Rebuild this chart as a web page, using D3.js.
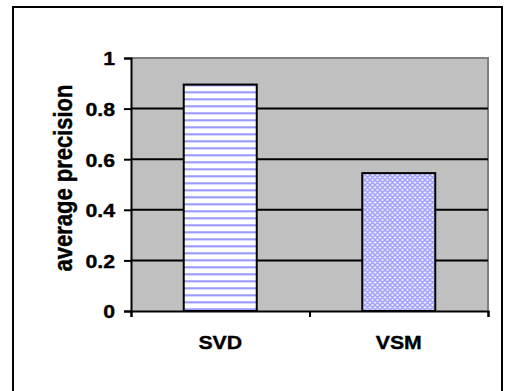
<!DOCTYPE html>
<html><head><meta charset="utf-8">
<script src="https://cdn.jsdelivr.net/npm/d3@7"></script>
<style>html,body{margin:0;padding:0;background:#fff;}svg{display:block;}text{font-family:"Liberation Sans",Arial,sans-serif;font-weight:bold;fill:#000;stroke:#000;stroke-width:0.35px;}</style>
</head><body>
<script>
const categories = ["SVD", "VSM"];
const values = [0.895, 0.545];
const yTicks = [0, 0.2, 0.4, 0.6, 0.8, 1];
const yTickLabels = ["0", "0.2", "0.4", "0.6", "0.8", "1"];
const yTitle = "average precision";

const W = 515, H = 391;
const svg = d3.select("body").append("svg").attr("width", W).attr("height", H);
const defs = svg.append("defs");

// horizontal stripes pattern
const SP = 7;
const p1 = defs.append("pattern").attr("id","stripes").attr("patternUnits","userSpaceOnUse")
  .attr("width", 8).attr("height", SP);
p1.append("rect").attr("width",8).attr("height",SP).attr("fill","#fff");
p1.append("rect").attr("y",0).attr("width",8).attr("height",2.6).attr("fill","#c8c8ff");
p1.append("rect").attr("y",0.5).attr("width",8).attr("height",1.6).attr("fill","#9c9cff");

// crosshatch pattern
const p2 = defs.append("pattern").attr("id","hatch").attr("patternUnits","userSpaceOnUse")
  .attr("width", 5).attr("height", 5);
p2.append("rect").attr("width",5).attr("height",5).attr("fill","#e8e8ff");
p2.append("path").attr("d","M0,0L5,5M5,0L0,5M-1,4L1,6M4,-1L6,1M-1,1L1,-1M4,6L6,4")
  .attr("stroke","#a0a0ff").attr("stroke-width",1.4).attr("fill","none");

// outer frame
svg.append("rect").attr("x",13).attr("y",7).attr("width",489).attr("height",400)
  .attr("fill","none").attr("stroke","#000").attr("stroke-width",2);

const L = 131, R = 488, T = 58, B = 311;
const x = d3.scaleBand().domain(categories).range([L, R]).paddingInner(0.591).paddingOuter(0.2955);
const y = d3.scaleLinear().domain([0, 1]).range([B, T]);

// plot area
svg.append("rect").attr("x",L).attr("y",T).attr("width",R-L).attr("height",B-T).attr("fill","#c0c0c0");
svg.append("line").attr("x1",L).attr("x2",R+1).attr("y1",T).attr("y2",T).attr("stroke","#808080").attr("stroke-width",2);
svg.append("line").attr("x1",R).attr("x2",R).attr("y1",T).attr("y2",B).attr("stroke","#808080").attr("stroke-width",2);

// gridlines
svg.append("g").selectAll("line").data(yTicks.filter(d => d > 0 && d < 1)).join("line")
  .attr("x1",L).attr("x2",R).attr("y1",d=>y(d)).attr("y2",d=>y(d))
  .attr("stroke","#000").attr("stroke-width",2);

// bars
const fills = ["url(#stripes)", "url(#hatch)"];
svg.append("g").selectAll("rect").data(categories).join("rect")
  .attr("x", d => x(d)).attr("width", x.bandwidth())
  .attr("y", (d,i) => y(values[i])).attr("height", (d,i) => B - y(values[i]))
  .attr("fill", (d,i) => fills[i]).attr("stroke","#000").attr("stroke-width",2);

// y axis
const yAxis = d3.axisLeft(y).tickValues(yTicks).tickFormat((d,i) => yTickLabels[i]).tickSize(7).tickPadding(9);
const gy = svg.append("g").attr("transform", `translate(${L},0)`).call(yAxis);
gy.attr("font-size", null).attr("font-family", null);
gy.select(".domain").attr("stroke","#000").attr("stroke-width",2);
gy.selectAll(".tick line").attr("stroke","#000").attr("stroke-width",2);
gy.selectAll(".tick text").style("font-size","19px")
  .attr("transform", function(){ const xx = +d3.select(this).attr("x"); return `translate(${-xx*0.12},0) scale(1.12,1)`; })
  .attr("dy","0.36em");

// x axis
const xAxis = d3.axisBottom(d3.scaleLinear().domain([0,2]).range([L,R])).tickValues([0,1,2]).tickFormat("").tickSize(6);
const gx = svg.append("g").attr("transform", `translate(0,${B})`).call(xAxis);
gx.select(".domain").attr("stroke","#000").attr("stroke-width",2);
gx.selectAll(".tick line").attr("stroke","#000").attr("stroke-width",2);

// category labels
svg.append("g").selectAll("text").data(categories).join("text")
  .attr("transform", d => `translate(${x(d)+x.bandwidth()/2},349) scale(1.12,1)`)
  .attr("text-anchor","middle").style("font-size","19px").text(d => d);

// y title
svg.append("text").attr("transform", "translate(72,178) scale(1.2,1) rotate(-90)")
  .attr("text-anchor","middle").style("font-size","22px").text(yTitle);
</script>
</body></html>
